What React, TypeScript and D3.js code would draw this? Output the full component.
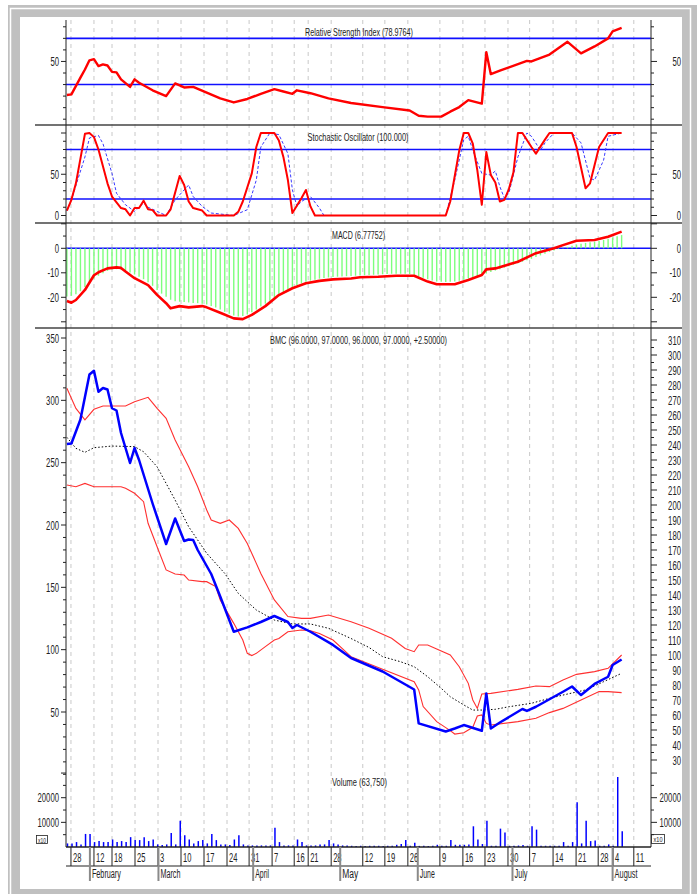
import React from 'react';
import * as d3 from 'd3';

type P = [number, number];

// x runs over trading days (index 0 = first bar)
const dayTickIdx = [0.9, 6, 10, 15.1, 20.2, 25.3, 30.4, 35.5, 40.4, 45.5, 50.4, 53.5, 58.6, 65.6, 70.5, 75.6, 82.7, 87.8, 92.7, 97.8, 102.6, 107.8, 112.9, 117.8, 121.1, 125.7];
const dayTickLabel = ['28', '12', '18', '25', '3', '10', '17', '24', '31', '7', '16', '21', '28', '12', '19', '26', '9', '16', '23', '30', '7', '14', '21', '28', '4', '11'];
const monthIdx = [5.1, 20.3, 41.3, 60.6, 77.8, 98.8, 121];
const monthLabel = ['February', 'March', 'April', 'May', 'June', 'July', 'August'];
const monthWidth = [29, 20, 14, 16, 15, 13, 23];

const close: P[] = [[0, 240.7], [1, 241], [3, 257], [4, 272], [5, 287], [6, 289.5], [7, 275.5], [8, 278], [9, 277], [10, 264.5], [11, 263], [12, 248], [14, 228], [15, 238], [16, 230], [19, 201], [22, 174], [24, 191], [26, 176], [27, 177], [28, 176.7], [29, 170], [32, 154], [34, 139], [37, 115.5], [40, 118.4], [43, 122], [46, 126], [49, 122], [50, 118], [51, 120], [54, 115.5], [59, 106.7], [63, 98], [70, 89], [77, 77], [78, 54.4], [84, 49], [86, 51], [88, 53.3], [92, 49.5], [93, 74.4], [94, 51], [96, 55], [101, 64], [102, 62.7], [104, 65.5], [110, 75.5], [112, 79], [114, 73.3], [117, 80.7], [120, 85.5], [121, 93.3], [123, 97]];
const bbUpper: P[] = [[0, 277.8], [2, 264.4], [4, 256.7], [6, 263.8], [8, 266], [13, 266], [15, 268.9], [18, 271.8], [20, 264.4], [22, 257.8], [24, 243.3], [27, 225.5], [29, 212.2], [31, 196.7], [32, 190], [34, 187.8], [36, 190], [38, 184.4], [40, 174.4], [43, 154.4], [46, 136.7], [49, 125.6], [52, 124.4], [54, 124.4], [58, 126.7], [63, 122.2], [67, 117.8], [72, 111.1], [75, 104.4], [77, 102.2], [78, 106.7], [80, 106.7], [85, 100], [87, 92.2], [89, 81.1], [90, 70], [91, 64.4], [92, 74], [94, 74.4], [100, 77.1], [104, 79.3], [107, 78.9], [110, 83.3], [113, 87.1], [117, 88.9], [120, 91.1], [123, 100]];
const bbLower: P[] = [[0, 213.3], [2, 212.2], [4, 214.4], [6, 212.2], [12, 212.2], [13, 211.1], [15, 207.8], [17, 202.2], [18, 187.8], [20, 172.2], [22, 156.7], [24, 154], [26, 153.3], [27, 150], [30, 148.9], [31, 148.9], [33, 145.6], [34, 136.7], [37, 121.1], [39, 110], [40, 101.1], [41, 99.6], [42, 101.1], [44, 105.6], [46, 110], [47, 111], [49, 115.5], [52, 116.7], [54, 116.2], [56, 114.4], [59, 110], [63, 98.9], [70, 90.5], [77, 82.2], [78, 76.7], [79, 65.6], [82, 55.6], [85, 49.6], [86, 47.3], [88, 48.2], [90, 51.8], [91, 59.3], [92, 60], [93, 54.4], [94, 53.3], [100, 55.6], [104, 57.8], [107, 61.6], [110, 64.4], [114, 70], [118, 75.6], [120, 75.6], [123, 74.9]];
const bbMid: P[] = [[0, 245.1], [2, 237.8], [4, 235.1], [6, 238.2], [10, 239.3], [15, 238.9], [17, 235.5], [20, 225.5], [24, 203.3], [27, 185.5], [31, 167.8], [35, 154.4], [38, 141.1], [42, 130], [46, 123.3], [50, 120.7], [54, 120.7], [58, 117.8], [63, 111], [67, 105], [70, 98.9], [74, 95.5], [77, 92.2], [80, 85.5], [83, 77.8], [85, 72.2], [88, 66.7], [90, 63.3], [92, 63.3], [95, 63.8], [98, 65.5], [103, 67.8], [107, 71.1], [110, 73.3], [115, 76.7], [119, 82.2], [123, 87.8]];

const rsi: P[] = [[0, 21], [1, 21.5], [3, 36], [4, 43], [5, 51], [6, 52], [7, 46], [8, 47.5], [9, 46.5], [10, 41], [11, 40.5], [12, 34.5], [14, 28], [15, 34.5], [16, 31.5], [19, 25], [22, 20], [24, 31], [26, 27.5], [28, 28], [31, 23], [34, 18], [37, 14.5], [40, 17.5], [43, 22], [46, 26], [48, 24], [50, 22], [51, 25], [54, 22.5], [58, 18], [63, 14], [70, 10.5], [76, 7.5], [78, 3], [80, 2.2], [83, 2.2], [85, 6.5], [87, 10.5], [89, 16.5], [92, 13.5], [93, 58], [94, 39], [96, 42], [102, 50.5], [103, 50], [107, 56], [111, 67], [114, 57], [117, 63], [120, 70], [121, 76], [123, 79]];

const stochK: P[] = [[0, 6], [1, 19], [2, 39], [4, 99], [5, 100], [6, 95], [7, 80], [9, 39], [10, 23], [12, 9], [13, 7.5], [14, 0], [15, 9], [16, 9], [17, 18], [18, 7.5], [19, 6.5], [20, 0], [22, 0], [23, 7.5], [25, 48], [26, 37], [27, 17], [28, 9], [30, 6], [31, 0], [37, 0], [38, 4.5], [39, 17], [41, 51], [42, 83], [43, 100], [46, 100], [47, 91], [48, 71], [49, 43], [50, 3], [52, 21], [53, 31], [54, 11], [55, 0], [84, 0], [85, 17], [87, 79], [88, 100], [89, 100], [90, 87], [91, 55], [92, 13], [93, 77], [94, 49], [95, 40], [96, 17], [97, 19], [98, 32], [99, 52], [100, 100], [101, 100], [103, 83], [104, 75], [106, 92], [107, 100], [112, 100], [113, 83], [115, 33], [116, 39], [118, 83], [120, 100], [123, 100]];
const stochD: P[] = [[0, 6], [1, 19], [4, 71], [5, 94], [7, 97], [8, 87], [10, 51], [11, 27], [13, 13], [15, 5], [17, 15], [18, 10], [20, 5], [22, 0], [24, 19], [27, 37], [28, 23], [30, 11], [32, 3], [37, 0], [40, 7], [42, 43], [43, 83], [45, 100], [47, 98], [49, 75], [50, 31], [51, 11], [52, 17], [54, 23], [56, 9], [57, 0], [84, 0], [86, 43], [88, 92], [89, 96], [90, 79], [92, 51], [94, 49], [95, 54], [96, 35], [97, 21], [98, 27], [100, 71], [102, 100], [103, 96], [105, 79], [106, 88], [108, 100], [112, 100], [114, 88], [116, 45], [117, 43], [119, 67], [120, 96], [123, 100]];

const macd: P[] = [[0, -21.5], [1, -22.2], [2, -21.1], [4, -17], [6, -11], [7, -9.8], [9, -8.2], [11, -7.8], [12, -8], [13, -9.5], [15, -12.2], [18, -15], [20, -19], [22, -22.4], [23, -24.5], [25, -23.6], [27, -24.1], [30, -23.6], [31, -24.1], [34, -26.3], [37, -28.6], [39, -28.9], [41, -27.2], [44, -23.6], [47, -19.1], [50, -16.3], [53, -14.3], [56, -13.3], [59, -12.7], [63, -12.3], [65, -11.8], [69, -11.6], [73, -11.2], [77, -11.2], [80, -13.6], [82, -14.7], [86, -14.7], [89, -12.9], [92, -10.9], [93, -8.6], [95, -8.2], [100, -5.5], [104, -2], [108, 0], [110, 1.3], [113, 3.1], [117, 3.4], [120, 4.7], [123, 6.8]];
const macdSignal = [
  -19.7, -19.4, -18.8, -17.5, -15.8, -14.0, -12.3, -11.2, -10.2, -9.2,
  -8.7, -8.5, -8.7, -9.2, -9.9, -10.7, -11.6, -12.6, -13.9, -15.3,
  -17.0, -18.5, -19.8, -21.0, -21.6, -21.8, -21.9, -22.1, -22.3, -22.4,
  -22.6, -22.9, -23.5, -24.2, -25.0, -25.9, -26.7, -27.4, -27.8, -27.6,
  -27.0, -26.1, -25.0, -23.8, -22.6, -21.4, -20.2, -19.0, -17.8, -16.7,
  -15.8, -15.0, -14.3, -13.7, -13.2, -12.8, -12.4, -12.1, -11.9, -11.7,
  -11.6, -11.5, -11.4, -11.3, -11.2, -11.1, -11.0, -10.9, -10.8, -10.7,
  -10.6, -10.5, -10.4, -10.4, -10.4, -10.4, -10.5, -10.8, -11.4, -12.0,
  -12.6, -13.1, -13.5, -13.7, -13.8, -13.7, -13.5, -13.2, -12.8, -12.3,
  -12.0, -11.6, -11.0, -10.3, -9.7, -9.1, -8.5, -7.9, -7.3, -6.7,
  -6.1, -5.5, -4.9, -4.3, -3.6, -2.9, -2.2, -1.5, -0.9, -0.3,
  0.2, 0.6, 1.0, 1.5, 1.9, 2.2, 2.5, 2.7, 3.0, 3.4,
  3.9, 4.4, 4.9, 5.4,
];

// volume in units of x10
const volume = [
  1450, 1450, 2000, 1050, 5300, 5300, 2000, 2400, 2000, 2000,
  3050, 2000, 2400, 2000, 4000, 2800, 2800, 4000, 2400, 3050,
  1050, 800, 1050, 5700, 1050, 10650, 4800, 3050, 1450, 2400,
  2800, 1450, 5300, 2800, 1050, 1050, 800, 3050, 4800, 1050,
  650, 650, 650, 650, 650, 650, 7850, 2000, 650, 650,
  650, 3050, 2000, 650, 650, 650, 1050, 1050, 2800, 1450,
  1050, 650, 650, 500, 450, 500, 450, 500, 550, 500,
  450, 500, 500, 900, 1200, 2800, 500, 1700, 450, 500,
  400, 500, 900, 500, 500, 2800, 900, 900, 900, 1000,
  8400, 3050, 1200, 10650, 500, 500, 7450, 5850, 500, 500,
  600, 800, 500, 8400, 7050, 500, 500, 500, 500, 500,
  2000, 500, 2000, 18150, 1450, 10650, 2400, 2650, 500, 500,
  1050, 500, 28400, 6375,
];

const titles = {
  rsi: 'Relative Strength Index (78.9764)',
  stoch: 'Stochastic Oscillator (100.000)',
  macd: 'MACD (6.77752)',
  price: 'BMC (96.0000, 97.0000, 96.0000, 97.0000, +2.50000)',
  volume: 'Volume (63,750)',
};

// ---- layout ----
const L = 66;
const R = 651;
const TOP = 20;
const SEP = [125, 223, 328];
const BOTTOM = 847;
const FONT = '"Liberation Sans", Arial, Helvetica, sans-serif';
const INK = '#222';

const x = d3.scaleLinear().domain([0, 130]).range([66.9, 653.2]);
const yRsi = d3.scaleLinear().domain([0, 100]).range([119.2, 3.7]);
const ySto = d3.scaleLinear().domain([0, 100]).range([215.5, 133]);
const yMacd = d3.scaleLinear().domain([-30, 10]).range([321.8, 223.8]);
const yPrice = d3.scaleLinear().domain([30, 310]).range([760, 340]);
const yLeft = d3.scaleLinear().domain([50, 350]).range([712, 338]);
const yVol = d3.scaleLinear().domain([0, 20000]).range([BOTTOM, 797.7]);

const charW = (s: string) =>
  [...s].reduce((a, c) => a + (c === '-' ? 3 : c === '.' || c === ',' ? 2 : 4.3), 0);

const Txt = ({ x: tx, y: ty, w, anchor = 'start', size = 13, children }: any) => (
  <text x={tx} y={ty} textLength={w} lengthAdjust="spacingAndGlyphs" textAnchor={anchor}
    fontSize={size} fontFamily={FONT} fill={INK}>{children}</text>
);

type TickSpec = { y: number; major: boolean; label?: string };

function Ticks({ ticks, left = true, right = true }: { ticks: TickSpec[]; left?: boolean; right?: boolean }) {
  return (
    <g>
      {ticks.map((t, i) => (
        <g key={i}>
          {left && <line x1={L - (t.major ? 5 : 3)} x2={L} y1={t.y} y2={t.y} stroke={INK} />}
          {right && <line x1={R} x2={R + (t.major ? 6 : 3)} y1={t.y} y2={t.y} stroke={INK} />}
          {t.label && left && <Txt x={59} y={t.y + 4.6} w={charW(t.label)} anchor="end">{t.label}</Txt>}
          {t.label && right && <Txt x={681} y={t.y + 4.6} w={charW(t.label)} anchor="end">{t.label}</Txt>}
        </g>
      ))}
    </g>
  );
}

const within = (lo: number, hi: number) => (t: TickSpec) => t.y >= lo - 0.5 && t.y <= hi + 0.5;

export default function App() {
  const line = (scale: d3.ScaleLinear<number, number>) =>
    d3.line<P>().x((d) => x(d[0])).y((d) => scale(d[1]));

  const rsiTicks = d3.range(0, 101, 10).map((v) => ({ y: yRsi(v), major: v === 50, label: v === 50 ? '50' : undefined })).filter(within(TOP, SEP[0]));
  const stoTicks = d3.range(0, 101, 10).map((v) => ({ y: ySto(v), major: v % 50 === 0, label: v === 0 || v === 50 ? String(v) : undefined })).filter(within(SEP[0], SEP[1]));
  const macdTicks = d3.range(-30, 11, 5).map((v) => ({ y: yMacd(v), major: v % 10 === 0, label: [0, -10, -20].includes(v) ? String(v) : undefined })).filter(within(SEP[1], SEP[2]));
  const leftPrice = d3.range(0, 351, 10).map((v) => ({ y: yLeft(v), major: v % 50 === 0 && v >= 50, label: v % 50 === 0 && v >= 50 ? String(v) : undefined })).filter(within(SEP[2] + 4, 776));
  const rightPrice = d3.range(30, 311, 5).map((v) => ({ y: yPrice(v), major: v % 10 === 0, label: v % 10 === 0 ? String(v) : undefined }));
  const volTicks = d3.range(5000, 30001, 5000).map((v) => ({ y: yVol(v), major: v % 10000 === 0, label: v === 10000 || v === 20000 ? String(v) : undefined }));

  return (
    <svg width={697} height={894} style={{ position: 'absolute', left: 0, top: 0, display: 'block' }}>
      <rect width={697} height={894} fill="#fff" />
      <rect x={8} y={5} width={689} height={889} fill="#c0c0c0" />
      <rect x={10.5} y={8.5} width={680} height={900} fill="none" stroke="#fff" strokeWidth={1.5} />
      <rect x={20} y={17} width={662} height={872} fill="#fff" />

      {/* grid */}
      {dayTickIdx.map((t, i) => (
        <line key={i} x1={x(t)} x2={x(t)} y1={TOP} y2={BOTTOM} stroke="#c8c8c8" strokeDasharray="4,4" />
      ))}

      {/* reference lines */}
      {[yRsi(70), yRsi(30), ySto(80), ySto(20), yMacd(0)].map((yy, i) => (
        <line key={i} x1={L} x2={R} y1={yy} y2={yy} stroke="#1010ff" strokeWidth={1.6} />
      ))}

      {/* MACD signal histogram */}
      {macdSignal.map((v, i) => (
        <line key={i} x1={x(i)} x2={x(i)} y1={yMacd(0)} y2={yMacd(v)} stroke="#7dff7d" strokeWidth={1.4} />
      ))}

      {/* volume */}
      {volume.map((v, i) => (
        <line key={i} x1={x(i) + 0.6} x2={x(i) + 0.6} y1={BOTTOM} y2={yVol(v)} stroke="#0000ff" strokeWidth={1.5} />
      ))}

      {/* indicator lines */}
      <path d={line(yRsi)(rsi) ?? ''} fill="none" stroke="#ff0000" strokeWidth={2.4} strokeLinejoin="round" />
      <path d={line(ySto)(stochD) ?? ''} fill="none" stroke="#3a3aff" strokeWidth={1} strokeDasharray="3,2" />
      <path d={line(ySto)(stochK) ?? ''} fill="none" stroke="#ff0000" strokeWidth={2} strokeLinejoin="round" />
      <path d={line(yMacd)(macd) ?? ''} fill="none" stroke="#ff0000" strokeWidth={2.6} strokeLinejoin="round" />

      {/* price */}
      <path d={line(yPrice)(bbUpper) ?? ''} fill="none" stroke="#ff3030" strokeWidth={1.1} />
      <path d={line(yPrice)(bbLower) ?? ''} fill="none" stroke="#ff3030" strokeWidth={1.1} />
      <path d={line(yPrice)(bbMid) ?? ''} fill="none" stroke="#000" strokeWidth={1} strokeDasharray="1.5,2" />
      <path d={line(yPrice)(close) ?? ''} fill="none" stroke="#0000ff" strokeWidth={2.5} strokeLinejoin="round" />

      {/* panel frames */}
      {SEP.map((s, i) => (
        <line key={i} x1={35} x2={682} y1={s} y2={s} stroke="#444" strokeWidth={1.5} />
      ))}
      <line x1={L} x2={L} y1={TOP} y2={BOTTOM} stroke={INK} />
      <line x1={R} x2={R} y1={TOP} y2={BOTTOM} stroke={INK} />
      <line x1={L} x2={R} y1={BOTTOM} y2={BOTTOM} stroke={INK} strokeWidth={1.5} />
      <line x1={L} x2={R} y1={866} y2={866} stroke={INK} strokeWidth={1.2} />

      {/* axes */}
      <Ticks ticks={rsiTicks} />
      <Ticks ticks={stoTicks} />
      <Ticks ticks={macdTicks} />
      <Ticks ticks={leftPrice} right={false} />
      <Ticks ticks={rightPrice} left={false} />
      <Ticks ticks={volTicks} />

      {/* x10 boxes */}
      <rect x={36.5} y={835.5} width={11} height={8} fill="none" stroke={INK} strokeWidth={0.8} />
      <Txt x={38} y={842.5} w={8} size={8}>x10</Txt>
      <rect x={651.5} y={834.5} width={13} height={9} fill="none" stroke={INK} strokeWidth={0.8} />
      <Txt x={653.5} y={842} w={9} size={8}>x10</Txt>

      {/* date axis */}
      {dayTickIdx.map((t, i) => (
        <g key={i}>
          <line x1={x(t)} x2={x(t)} y1={BOTTOM} y2={866} stroke={INK} />
          <Txt x={x(t) + 2} y={862} w={dayTickLabel[i].length * 4.2} size={13.5}>{dayTickLabel[i]}</Txt>
        </g>
      ))}
      {monthIdx.map((t, i) => (
        <g key={i}>
          <line x1={x(t)} x2={x(t)} y1={BOTTOM} y2={881} stroke="#8a8a8a" strokeWidth={2} />
          <Txt x={x(t) + 2} y={878} w={monthWidth[i]} size={12.5}>{monthLabel[i]}</Txt>
        </g>
      ))}

      {/* titles */}
      <Txt x={359} y={36} w={108} anchor="middle" size={11.5}>{titles.rsi}</Txt>
      <Txt x={358} y={141} w={101} anchor="middle" size={11.5}>{titles.stoch}</Txt>
      <Txt x={358.5} y={239} w={53} anchor="middle" size={11.5}>{titles.macd}</Txt>
      <Txt x={358.5} y={344} w={177} anchor="middle" size={11.5}>{titles.price}</Txt>
      <Txt x={359.5} y={786} w={55} anchor="middle" size={11.5}>{titles.volume}</Txt>
    </svg>
  );
}
